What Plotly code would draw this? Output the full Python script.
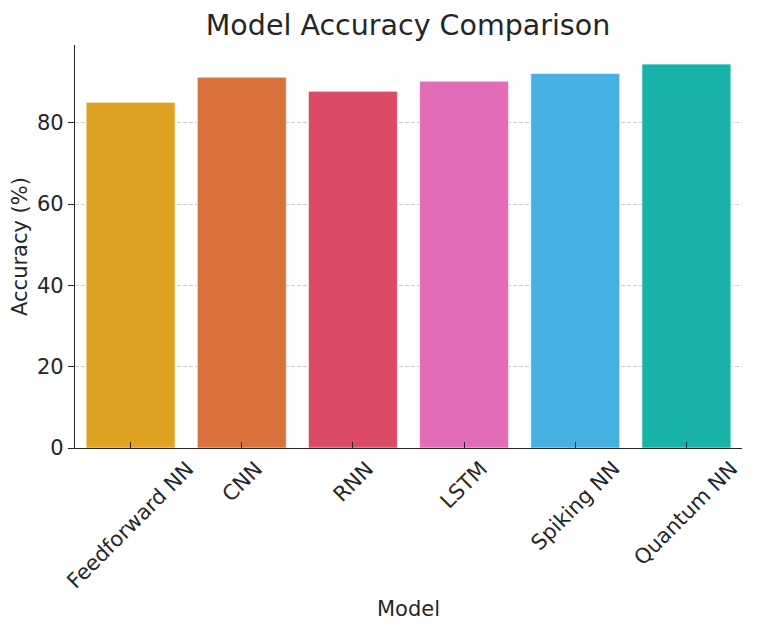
import plotly.graph_objects as go

# values
models = ['Feedforward NN', 'CNN', 'RNN', 'LSTM', 'Spiking NN', 'Quantum NN']
accuracy = [85.0, 91.2, 87.7, 90.2, 92.1, 94.4]
bar_colors = ['#DFA321', '#DB713C', '#DD4A66', '#E46BB8', '#44B1E2', '#19B2A9']
y_ticks = [0, 20, 40, 60, 80]

TEXT = '#262626'
FONT = 'DejaVu Sans'
SIZE = 21

fig = go.Figure(go.Bar(
    x=models,
    y=accuracy,
    marker=dict(color=bar_colors, line=dict(color='white', width=0.6)),
    width=0.8,
))

# rotated category labels, centred under each tick like the original
labels = []
for m in models:
    labels.append(dict(
        x=m, y=0, xref='x', yref='y',
        text=m, textangle=-45, showarrow=False,
        xanchor='center', yanchor='top', yshift=-6,
        font=dict(family=FONT, size=SIZE, color=TEXT),
    ))
labels.append(dict(
    x=0.5, y=-0.4, xref='paper', yref='paper',
    text='Model', showarrow=False,
    xanchor='center', yanchor='middle',
    font=dict(family=FONT, size=SIZE, color=TEXT),
))

# page body adds an 8px offset, so margins are trimmed to match
fig.update_layout(
    width=759, height=634,
    margin=dict(l=67, r=25, t=37, b=194),
    paper_bgcolor='white', plot_bgcolor='white',
    font=dict(family=FONT, size=SIZE, color=TEXT),
    title=dict(text='Model Accuracy Comparison', x=0.527, xanchor='center',
               y=0.973, yanchor='middle',
               font=dict(family=FONT, size=28.5, color=TEXT)),
    showlegend=False,
    annotations=labels,
)
fig.update_xaxes(
    range=[-0.5, 5.5], showticklabels=False,
    showline=True, linecolor=TEXT, linewidth=1.3,
    ticks='inside', ticklen=6, tickcolor=TEXT, tickwidth=1.2,
    showgrid=False, zeroline=False,
)
fig.update_yaxes(
    range=[0, 99.1], tickvals=y_ticks, automargin=False,
    title=dict(text='Accuracy (%)', standoff=10, font=dict(size=SIZE)),
    showline=True, linecolor=TEXT, linewidth=1.3,
    ticks='outside', ticklen=6, tickcolor=TEXT, tickwidth=1.2,
    showgrid=True, gridcolor='#cccccc', griddash='4px,2px', gridwidth=0.8,
    zeroline=False, tickfont=dict(size=SIZE),
)

fig.write_html("out.html")
